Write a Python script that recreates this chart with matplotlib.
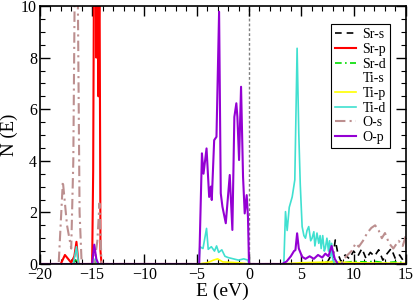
import matplotlib
matplotlib.use("Agg")
import matplotlib.pyplot as plt
from matplotlib.ticker import MultipleLocator

plt.rcParams['font.family'] = ['Liberation Serif', 'DejaVu Serif']

# Sr-s (black dashed)
srs_E = [-20, -17.0, -16.6, -16.4, 7.4, 7.8, 8.0, 8.25, 8.5, 8.8, 9.2, 9.6, 10.0, 10.4, 10.8, 11.2,
         11.6, 12.0, 12.4, 12.8, 13.2, 13.6, 14.0, 14.4, 14.8, 15]
srs_N = [0, 0, 0.15, 0, 0, 0.3, 0.2, 0.93, 0.4, 0.1, 0.35, 0.2, 0.5, 0.3, 0.6, 0.2,
         0.45, 0.3, 0.55, 0.15, 0.4, 0.6, 0.2, 0.35, 0.1, 0.2]
# Sr-p (red)
srp_E = [-20, -18.0, -17.6, -17.0, -16.7, -16.5, -16.3, -15.0, -14.9, -14.8, -14.7, -14.6,
         -14.5, -14.4, -14.3, -14.2, -14.1, 15]
srp_N = [0, 0, 0.35, 0.05, 0.3, 0.86, 0, 0, 3.6, 14, 20, 8, 15, 6.5, 12, 0.5, 0, 0]
# Sr-d (green dash-dot)
srd_E = [-20, -16.8, -16.6, -16.4, -14.9, -14.7, -14.5, 6.0, 7.0, 8.0, 9.0, 10.0, 11.0, 12.0, 13.0, 14.0, 15]
srd_N = [0, 0, 0.2, 0, 0, 0.1, 0, 0, 0.05, 0.1, 0.05, 0.1, 0.08, 0.1, 0.05, 0.08, 0.05]
# Ti-s (white)
tis_E = [-20, 15]
tis_N = [0, 0]
# Ti-p (yellow)
tip_E = [-20, -4.8, -4.0, -3.4, -3.0, -2.5, -1.0, 0, 3.2, 5.0, 8.0, 11.0, 15]
tip_N = [0, 0, 0.05, 0.15, 0.2, 0.08, 0.05, 0, 0, 0.05, 0.08, 0.04, 0.03]
# Ti-d (turquoise)
tid_E = [-20, -16.8, -16.5, -16.3, -14.9, -14.7, -14.5, -4.8, -4.7, -4.4, -4.06, -3.9, -3.6, -3.3,
         -3.1, -2.9, -2.6, -2.3, -2.0, -1.5, -1.0, -0.5, -0.1, 0, 3.2, 3.33, 3.49, 3.65, 3.85, 4.13,
         4.38, 4.6, 4.76, 4.9, 5.08, 5.25, 5.4, 5.55, 5.71, 5.9, 6.03, 6.2, 6.3, 6.5, 6.67, 6.8,
         6.9, 7.05, 7.2, 7.3, 7.45, 7.6, 7.7, 7.8, 7.9, 8.0, 8.2, 15]
tid_N = [0, 0, 0.67, 0, 0, 0.2, 0, 0, 0.67, 0.6, 1.38, 0.57, 0.67, 0.5,
         0.7, 0.45, 0.55, 0.3, 0.25, 0.2, 0.15, 0.2, 0.15, 0, 0, 0, 2.03, 1.3, 2.2, 2.6,
         3.26, 8.36, 5.07, 3.1, 1.45, 1.1, 1.0, 1.3, 1.45, 0.9, 1.0, 1.25, 0.7, 1.2, 0.8, 1.1,
         0.6, 1.1, 0.5, 0.62, 1.0, 0.5, 0.9, 0.3, 0.8, 0.2, 0, 0]
# O-s (rosybrown dashed)
os_E = [-20, -18.2, -17.8, -17.4, -17.0, -16.8, -16.6, -16.4, -16.2, -16.0, -14.8, -14.5, -14.3,
        -14.1, 8.8, 9.3, 9.8, 10.2, 10.5, 10.9, 11.3, 11.7, 12.06, 12.4, 12.7, 13.0, 13.4,
        13.8, 14.3, 14.7, 15]
os_N = [0, 0, 3.2, 1.5, 0.6, 4.0, 14, 12, 2.0, 0, 0, 0.9, 2.35, 0, 0, 0.3, 0.5, 0.8, 0.67, 0.9,
        1.2, 1.4, 1.5, 1.3, 1.0, 1.2, 0.8, 0.6, 0.9, 0.7, 1.1]
# O-p (dark violet)
op_E = [-20, -15.0, -14.8, -14.6, -14.4, -4.76, -4.5, -4.35, -4.06, -3.81, -3.65, -3.56, -3.33,
        -3.11, -2.86, -2.7, -2.54, -2.22, -1.84, -1.59, -1.4, -1.21, -1.11, -0.95, -0.76, -0.57,
        -0.41, -0.22, -0.1, 0, 3.17, 3.6, 4.0, 4.3, 4.44, 4.6, 4.76, 5.08, 5.4, 5.8, 6.2, 6.6,
        7.0, 7.3, 7.6, 7.9, 8.2, 8.5, 15]
op_N = [0, 0, 0.75, 0.2, 0, 0, 4.29, 3.5, 4.48, 2.6, 3.0, 2.48, 4.8,
        4.93, 9.78, 2.74, 2.22, 1.58, 3.45, 1.32, 5.7, 6.23, 5.7, 4.03, 6.87, 3.38,
        1.96, 2.67, 1.83, 0, 0, 0.1, 0.3, 0.5, 0.54, 1.19, 0.6, 0.28, 0.2, 0.3, 0.2, 0.35,
        0.25, 0.4, 0.3, 0.7, 0.2, 0, 0]

fig = plt.figure(figsize=(4.15, 3.0), dpi=100)
ax = fig.add_axes([0.096, 0.12, 0.882, 0.86])

ax.plot(tis_E, tis_N, color='white', lw=1.2, label='Ti-s', zorder=1)
ax.plot(srs_E, srs_N, color='black', lw=1.2, ls=(0, (4, 3)), label='Sr-s')
ax.plot(srp_E, srp_N, color='red', lw=1.5, label='Sr-p')
ax.plot(srd_E, srd_N, color='#00dd00', lw=1.2, ls=(0, (4, 2, 1, 2)), label='Sr-d')
ax.plot(tip_E, tip_N, color='yellow', lw=1.2, label='Ti-p')
ax.plot(tid_E, tid_N, color='#40e0d0', lw=1.2, label='Ti-d')
ax.plot(os_E, os_N, color='#bc8f8f', lw=1.5, ls=(0, (5, 2, 1, 2)), label='O-s')
ax.plot(op_E, op_N, color='#9400d3', lw=1.5, label='O-p')
ax.axvline(0, color='gray', lw=1, ls=(0, (2, 1.5)), zorder=0)

handles, labels = ax.get_legend_handles_labels()
order = ['Sr-s', 'Sr-p', 'Sr-d', 'Ti-s', 'Ti-p', 'Ti-d', 'O-s', 'O-p']
hl = dict(zip(labels, handles))
leg = ax.legend([hl[k] for k in order], order, loc='upper right', bbox_to_anchor=(0.958, 0.93),
                fontsize=10, frameon=True, fancybox=False, edgecolor='black', framealpha=1,
                handlelength=1.5, handletextpad=0.5, labelspacing=0.12, borderpad=0.3,
                borderaxespad=0)
leg.get_frame().set_linewidth(0.8)

ax.set_xlim(-20, 15)
ax.set_ylim(0, 10)
ax.xaxis.set_major_locator(MultipleLocator(5))
ax.xaxis.set_minor_locator(MultipleLocator(1))
ax.yaxis.set_major_locator(MultipleLocator(2))
ax.yaxis.set_minor_locator(MultipleLocator(0.5))
ax.tick_params(which='both', direction='in', top=True, right=True, labelsize=11.5, pad=2)
ax.tick_params(which='major', length=7, width=1)
ax.tick_params(which='minor', length=3.5, width=0.8)
for s in ax.spines.values():
    s.set_linewidth(1.2)

ax.set_xlabel('E (eV)', fontsize=14, labelpad=0)
ax.set_ylabel('N (E)', fontsize=13.5, labelpad=2)

fig.savefig('out.png', dpi=100)
